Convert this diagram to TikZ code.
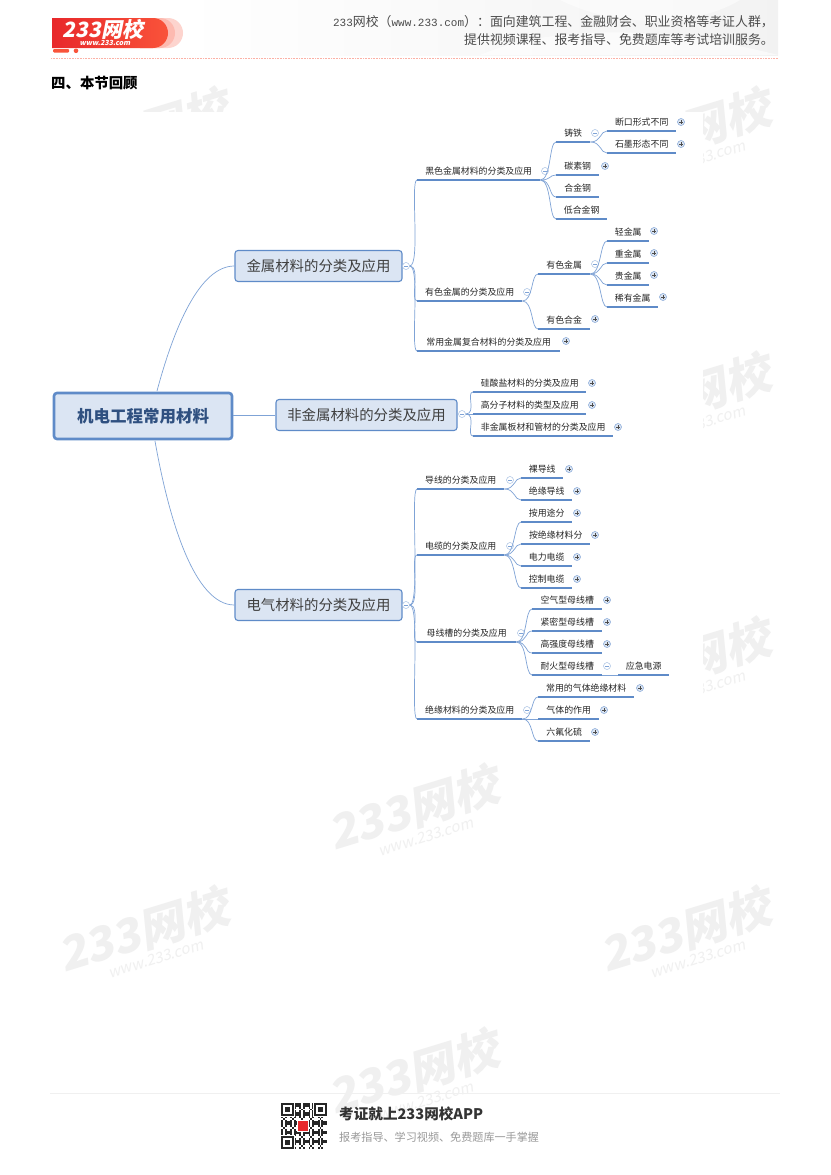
\documentclass[tikz,border=0pt]{standalone}
\usepackage{fontspec}
\usepackage{xcolor}
\setmainfont{Noto Sans CJK SC}
\newfontfamily\slantfont[FakeSlant=0.2]{Noto Sans CJK SC}
\newfontfamily\monofont{Liberation Mono}
\definecolor{linecol}{HTML}{5F8BC8}
\definecolor{conncol}{HTML}{7FA3D6}
\definecolor{boxfill}{HTML}{DBE5F3}
\definecolor{rootcol}{HTML}{2F5080}
\definecolor{markcol}{HTML}{F0F0F0}
\definecolor{logored}{HTML}{E8282B}
\definecolor{logoorange}{HTML}{F9533A}
\tikzstyle{root} = [rectangle, rounded corners=3pt, draw=linecol, line width=2.6pt, fill=boxfill, text=rootcol, minimum width=178pt, minimum height=46pt, inner sep=0pt, font=\fontsize{16.5}{17}\selectfont\bfseries]
\tikzstyle{topic} = [rectangle, rounded corners=3pt, draw=linecol, line width=1.1pt, fill=boxfill, text=black!75, minimum height=31pt, inner sep=0pt, font=\fontsize{14.4}{15}\selectfont]
\tikzstyle{uline} = [draw=linecol, line width=1.4pt]
\tikzstyle{leaf} = [anchor=south west, inner sep=0pt, minimum height=18pt, text=black!85, font=\fontsize{8.9}{9}\selectfont, append after command={(\tikzlastnode.south west) edge[uline] (\tikzlastnode.south east)}]
\tikzstyle{conn} = [draw=conncol, line width=0.7pt]
\tikzstyle{brn} = [out=0, in=180, out distance=11pt, in distance=7pt]
\tikzstyle{foldm} = [circle, draw=conncol!70, fill=white, line width=0.5pt, inner sep=0pt, minimum size=7pt, path picture={\draw[conncol, line width=0.5pt] ([xshift=1.5pt]path picture bounding box.west) -- ([xshift=-1.5pt]path picture bounding box.east);}]
\tikzstyle{foldp} = [circle, draw=conncol, fill=boxfill, line width=0.5pt, inner sep=0pt, minimum size=7pt, path picture={\draw[black!70, line width=0.5pt] ([xshift=1.5pt]path picture bounding box.west) -- ([xshift=-1.5pt]path picture bounding box.east) ([yshift=-1.5pt]path picture bounding box.north) -- ([yshift=1.5pt]path picture bounding box.south);}]
\tikzstyle{wmbig} = [text=markcol, transform shape, inner sep=0pt, font=\fontsize{46}{46}\slantfont\bfseries]
\tikzstyle{wmsmall} = [text=markcol, transform shape, inner sep=0pt, font=\fontsize{15}{15}\slantfont]
\newcommand{\wmark}[3]{
  \begin{scope}[shift={(#2,#3)},rotate=17]
    \node[wmbig] (#1big) at (0,0) {233网校};
    \node[wmsmall] (#1small) at (4,-31) {www.233.com};
  \end{scope}
}

\begin{document}
\begin{tikzpicture}[x=1pt,y=1pt]
  \useasboundingbox (0,0) rectangle (830,-1175);
  \fill[white] (0,0) rectangle (830,-1175);

  % header background
  \shade[left color=white, right color=black!5] (180,0) rectangle (778,-55);
  \fill[white, opacity=0.5] (560,0) .. controls (620,-30) and (700,-25) .. (740,0) -- cycle;
  \fill[white, opacity=0.6] (480,-55) .. controls (540,-30) and (640,-20) .. (778,-55) -- cycle;

  % watermarks
  \wmark{wa}{143}{-131}
  \wmark{wb}{685}{-131}
  \wmark{wc}{685}{-396}
  \wmark{wd}{685}{-661}
  \wmark{we}{143}{-930}
  \wmark{wf}{685}{-930}
  \wmark{wg}{413}{-808}
  \wmark{wh}{413}{-1072}
  \fill[white] (45,-112) rectangle (703,-750);

  % logo
  \fill[logoorange!25] (140,-18) -- (168,-18) arc (90:-90:15pt) -- (140,-48) -- cycle;
  \fill[logoorange!40] (140,-18) -- (160,-18) arc (90:-90:15pt) -- (140,-48) -- cycle;
  \shade[left color=logored, right color=logoorange] (52,-18) -- (153,-18) arc (90:-90:15pt) -- (52,-48) -- cycle;
  \node[text=white, inner sep=0pt, font=\fontsize{21}{21}\slantfont\bfseries] (logo) at (103,-29) {233网校};
  \node[text=white, inner sep=0pt, font=\fontsize{7}{8}\slantfont\bfseries] (logourl) at (105,-43) {www.233.com};
  \fill[logoorange, rounded corners=1pt] (53,-49) rectangle (69,-52.5);
  \fill[logoorange] (76,-50.8) circle (2.3pt);
  \draw[logoorange!45, densely dotted, line width=0.6pt] (51,-58.5) -- (778,-58.5);

  \node[anchor=east, inner sep=0pt, text=black!70, font=\fontsize{12.9}{13}\selectfont] (head1) at (774,-22) {{\monofont\fontsize{11}{13}\selectfont 233}网校（{\monofont\fontsize{11}{13}\selectfont www.233.com}）：面向建筑工程、金融财会、职业资格等考证人群，};
  \node[anchor=east, inner sep=0pt, text=black!70, font=\fontsize{12.9}{13}\selectfont] (head2) at (774,-40) {提供视频课程、报考指导、免费题库等考试培训服务。};
  \node[anchor=west, inner sep=0pt, font=\fontsize{14.4}{15}\selectfont\bfseries] (title) at (51,-83) {四、本节回顾};

  % main topics
  \node[root] (main) at (143,-416) {机电工程常用材料};
  \node[topic, minimum width=167pt] (jinshu) at (318.5,-266) {金属材料的分类及应用};
  \node[topic, minimum width=181pt] (feijin) at (366.5,-415) {非金属材料的分类及应用};
  \node[topic, minimum width=167pt] (dianqi) at (318.5,-605) {电气材料的分类及应用};
  \coordinate (maintop) at (157,-391);
  \coordinate (mainbot) at (155,-441);
  \draw[conn] (maintop) to[out=75, in=180, out distance=65pt, in distance=35pt] (jinshu.west);
  \draw[conn] (main.east |- feijin.west) -- (feijin.west);
  \draw[conn] (mainbot) to[out=-80, in=180, out distance=80pt, in distance=40pt] (dianqi.west);

  \node[foldm] (jinshuF) at (406,-266) {};
  \node[foldm] (feijinF) at (462,-414) {};
  \node[foldm] (dianqiF) at (406,-605) {};

  % metals
  \node[leaf, minimum width=123pt] (heise) at (417,-180) {黑色金属材料的分类及应用};
  \node[leaf, minimum width=105pt] (youse) at (417,-301) {有色金属的分类及应用};
  \node[leaf, minimum width=143pt] (fuhe) at (417,-351) {常用金属复合材料的分类及应用};
  \node[foldm] (heiseF) at (545,-171) {};
  \node[foldm] (youseF) at (527,-292) {};
  \node[foldp] (fuheP) at (566,-341) {};
  \draw[conn] (jinshuF.east) to[brn] (heise.south west);
  \draw[conn] (jinshuF.east) to[brn] (youse.south west);
  \draw[conn] (jinshuF.east) to[brn] (fuhe.south west);

  \node[leaf, minimum width=34pt] (zhutie) at (556,-142) {铸铁};
  \node[leaf, minimum width=43pt] (tansu) at (556,-175) {碳素钢};
  \node[leaf, minimum width=43pt] (hejin) at (556,-197) {合金钢};
  \node[leaf, minimum width=51pt] (dihejin) at (556,-219) {低合金钢};
  \node[foldm] (zhutieF) at (595,-133) {};
  \node[foldp] (tansuP) at (605,-166) {};
  \draw[conn] (heise.south east) to[brn] (zhutie.south west);
  \draw[conn] (heise.south east) to[brn] (tansu.south west);
  \draw[conn] (heise.south east) to[brn] (hejin.south west);
  \draw[conn] (heise.south east) to[brn] (dihejin.south west);

  \node[leaf, minimum width=69pt] (duankou) at (607,-131) {断口形式不同};
  \node[leaf, minimum width=69pt] (shimo) at (607,-153) {石墨形态不同};
  \node[foldp] (duankouP) at (681,-122) {};
  \node[foldp] (shimoP) at (681,-144) {};
  \draw[conn] (zhutie.south east) to[brn] (duankou.south west);
  \draw[conn] (zhutie.south east) to[brn] (shimo.south west);

  \node[leaf, minimum width=52pt] (yousejs) at (538,-274) {有色金属};
  \node[leaf, minimum width=52pt] (yousehj) at (538,-329) {有色合金};
  \node[foldm] (yousejsF) at (595,-264) {};
  \node[foldp] (yousehjP) at (595,-319) {};
  \draw[conn] (youse.south east) to[brn] (yousejs.south west);
  \draw[conn] (youse.south east) to[brn] (yousehj.south west);

  \node[leaf, minimum width=42pt] (qing) at (607,-241) {轻金属};
  \node[leaf, minimum width=42pt] (zhong) at (607,-263) {重金属};
  \node[leaf, minimum width=42pt] (gui) at (607,-285) {贵金属};
  \node[leaf, minimum width=51pt] (xiyou) at (607,-307) {稀有金属};
  \node[foldp] (qingP) at (654,-231) {};
  \node[foldp] (zhongP) at (654,-253) {};
  \node[foldp] (guiP) at (654,-275) {};
  \node[foldp] (xiyouP) at (663,-297) {};
  \draw[conn] (yousejs.south east) to[brn] (qing.south west);
  \draw[conn] (yousejs.south east) to[brn] (zhong.south west);
  \draw[conn] (yousejs.south east) to[brn] (gui.south west);
  \draw[conn] (yousejs.south east) to[brn] (xiyou.south west);

  % non-metals
  \node[leaf, minimum width=113pt] (guisuan) at (473,-392) {硅酸盐材料的分类及应用};
  \node[leaf, minimum width=113pt] (gaofenzi) at (473,-414) {高分子材料的类型及应用};
  \node[leaf, minimum width=140pt] (banguan) at (473,-436) {非金属板材和管材的分类及应用};
  \node[foldp] (guisuanP) at (592,-383) {};
  \node[foldp] (gaofenziP) at (592,-405) {};
  \node[foldp] (banguanP) at (618,-427) {};
  \draw[conn] (feijinF.east) to[brn] (guisuan.south west);
  \draw[conn] (feijinF.east) -- (gaofenzi.south west);
  \draw[conn] (feijinF.east) to[brn] (banguan.south west);

  % electrical
  \node[leaf, minimum width=87pt] (daoxian) at (417,-489) {导线的分类及应用};
  \node[leaf, minimum width=87pt] (dianlan) at (417,-555) {电缆的分类及应用};
  \node[leaf, minimum width=99pt] (muxian) at (417,-642) {母线槽的分类及应用};
  \node[leaf, minimum width=105pt] (jueyuan) at (417,-719) {绝缘材料的分类及应用};
  \node[foldm] (daoxianF) at (510,-480) {};
  \node[foldm] (dianlanF) at (510,-546) {};
  \node[foldm] (muxianF) at (521,-633) {};
  \node[foldm] (jueyuanF) at (527,-710) {};
  \draw[conn] (dianqiF.east) to[brn] (daoxian.south west);
  \draw[conn] (dianqiF.east) to[brn] (dianlan.south west);
  \draw[conn] (dianqiF.east) to[brn] (muxian.south west);
  \draw[conn] (dianqiF.east) to[brn] (jueyuan.south west);

  \node[leaf, minimum width=42pt] (luodao) at (521,-478) {裸导线};
  \node[leaf, minimum width=51pt] (jydao) at (521,-500) {绝缘导线};
  \node[foldp] (luodaoP) at (569,-469) {};
  \node[foldp] (jydaoP) at (577,-491) {};
  \draw[conn] (daoxian.south east) to[brn] (luodao.south west);
  \draw[conn] (daoxian.south east) to[brn] (jydao.south west);

  \node[leaf, minimum width=51pt] (yongtu) at (521,-522) {按用途分};
  \node[leaf, minimum width=69pt] (ancai) at (521,-544) {按绝缘材料分};
  \node[leaf, minimum width=51pt] (dianli) at (521,-566) {电力电缆};
  \node[leaf, minimum width=51pt] (kongzhi) at (521,-588) {控制电缆};
  \node[foldp] (yongtuP) at (577,-513) {};
  \node[foldp] (ancaiP) at (595,-535) {};
  \node[foldp] (dianliP) at (577,-557) {};
  \node[foldp] (kongzhiP) at (577,-579) {};
  \draw[conn] (dianlan.south east) to[brn] (yongtu.south west);
  \draw[conn] (dianlan.south east) to[brn] (ancai.south west);
  \draw[conn] (dianlan.south east) to[brn] (dianli.south west);
  \draw[conn] (dianlan.south east) to[brn] (kongzhi.south west);

  \node[leaf, minimum width=70pt] (kongqi) at (532,-609) {空气型母线槽};
  \node[leaf, minimum width=70pt] (jinmi) at (532,-631) {紧密型母线槽};
  \node[leaf, minimum width=70pt] (gaoqiang) at (532,-653) {高强度母线槽};
  \node[leaf, minimum width=70pt] (naihuo) at (532,-675) {耐火型母线槽};
  \node[leaf, minimum width=51pt] (yingji) at (618,-675) {应急电源};
  \node[foldp] (kongqiP) at (607,-600) {};
  \node[foldp] (jinmiP) at (607,-622) {};
  \node[foldp] (gaoqiangP) at (607,-644) {};
  \node[foldm] (naihuoF) at (607,-666) {};
  \draw[conn] (muxian.south east) to[brn] (kongqi.south west);
  \draw[conn] (muxian.south east) to[brn] (jinmi.south west);
  \draw[conn] (muxian.south east) to[brn] (gaoqiang.south west);
  \draw[conn] (muxian.south east) to[brn] (naihuo.south west);
  \draw[conn] (naihuo.south east) -- (yingji.south west);

  \node[leaf, minimum width=96pt] (changyong) at (538,-697) {常用的气体绝缘材料};
  \node[leaf, minimum width=61pt] (zuoyong) at (538,-719) {气体的作用};
  \node[leaf, minimum width=52pt] (liufu) at (538,-741) {六氟化硫};
  \node[foldp] (changyongP) at (640,-688) {};
  \node[foldp] (zuoyongP) at (604,-710) {};
  \node[foldp] (liufuP) at (595,-732) {};
  \draw[conn] (jueyuan.south east) to[brn] (changyong.south west);
  \draw[conn] (jueyuan.south east) -- (zuoyong.south west);
  \draw[conn] (jueyuan.south east) to[brn] (liufu.south west);

  % footer
  \draw[black!6, line width=0.6pt] (50,-1093) -- (780,-1093);
  \begin{scope}[shift={(281,-1103)}]
    \foreach \i in {0,...,24} \foreach \j in {0,...,24} {
      \pgfmathtruncatemacro{\k}{mod(\i*\i*7+\j*\j*3+\i*\j*5+\i+2*\j,5)}
      \ifnum\k<2
        \fill[black!85] (\i*1.84,-\j*1.84) rectangle ++(1.84,-1.84);
      \fi
    }
    \foreach \px/\py in {0/0,33/0,0/-33} {
      \fill[white] (\px-1,\py+1) rectangle ++(15,-15);
      \fill[black!85] (\px,\py) rectangle ++(13,-13);
      \fill[white] (\px+2,\py-2) rectangle ++(9,-9);
      \fill[black!85] (\px+4,\py-4) rectangle ++(5,-5);
    }
    \fill[white] (16,-17) rectangle ++(12,-12);
    \fill[logored] (17,-18) rectangle ++(10,-10);
  \end{scope}
  \node[anchor=west, inner sep=0pt, text=black!80, font=\fontsize{14.6}{15}\selectfont\bfseries] (app) at (339,-1114) {考证就上233网校APP};
  \node[anchor=west, inner sep=0pt, text=black!40, font=\fontsize{11.1}{12}\selectfont] (slogan) at (339,-1137) {报考指导、学习视频、免费题库一手掌握};
\end{tikzpicture}
\end{document}
